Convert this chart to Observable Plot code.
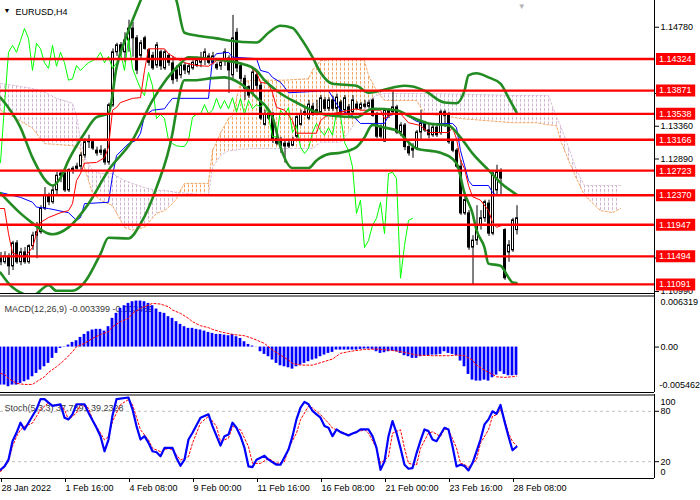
<!DOCTYPE html>
<html><head><meta charset="utf-8">
<script src="https://cdn.jsdelivr.net/npm/d3@7"></script>
<script src="https://cdn.jsdelivr.net/npm/@observablehq/plot@0.6"></script>
<style>
body{margin:0;background:#fff;}
#chart{position:relative;width:700px;height:500px;overflow:hidden;background:#fff;}
#chart svg{position:absolute;left:0;}
</style></head><body><div id="chart"></div>
<script>
// ---------- DATA ----------
const symbolTitle = "EURUSD,H4";
const macdTitle = "MACD(12,26,9) -0.003399 -0.003489";
const stochTitle = "Stoch(5,3,3) 37.7891 39.2328";
const xTickBars = [0,16,32,48,64,80,96,112,128];
const xTickLabels = ["28 Jan 2022","1 Feb 16:00","4 Feb 08:00","9 Feb 00:00","11 Feb 16:00","16 Feb 08:00","21 Feb 00:00","23 Feb 16:00","28 Feb 08:00"];
const priceTicks = [1.14780,1.13830,1.13360,1.12890,1.11470,1.10990];
const levels = [1.14324,1.13871,1.13538,1.13166,1.12723,1.12370,1.11947,1.11494,1.11091];
const priceRange = [1.10947, 1.15163];

const candleOpen = [1.1146,1.1141,1.1149,1.1135,1.1168,1.1141,1.1155,1.1141,1.1164,1.1179,
 1.1184,1.1218,1.1237,1.1227,1.1244,1.1265,1.1268,1.1244,1.1273,1.1275,
 1.1278,1.1294,1.1313,1.1313,1.1301,1.1301,1.1301,1.1284,1.1366,1.1442,
 1.1452,1.1442,1.1459,1.1476,1.1462,1.1437,1.1462,1.1445,1.1437,1.1423,
 1.1442,1.1419,1.1437,1.1426,1.1416,1.1409,1.1423,1.1413,1.1419,1.1423,
 1.1427,1.1433,1.1436,1.1427,1.1424,1.1422,1.1430,1.1433,1.1409,1.1470,
 1.1422,1.1404,1.1392,1.1387,1.1409,1.1394,1.1338,1.1351,1.1351,1.1318,
 1.1316,1.1311,1.1311,1.1308,1.1321,1.1338,1.1356,1.1347,1.1364,1.1356,
 1.1356,1.1373,1.1361,1.1373,1.1361,1.1370,1.1359,1.1363,1.1356,1.1367,
 1.1361,1.1367,1.1364,1.1373,1.1353,1.1334,1.1314,1.1359,1.1356,1.1363,
 1.1327,1.1337,1.1306,1.1301,1.1304,1.1327,1.1340,1.1330,1.1323,1.1334,
 1.1326,1.1356,1.1351,1.1313,1.1301,1.1278,1.1211,1.1211,1.1162,1.1172,
 1.1194,1.1204,1.1225,1.1182,1.1244,1.1270,1.1187,1.1155,1.1158,1.1187];
const candleHigh = [1.1155,1.1156,1.1153,1.1171,1.1172,1.1161,1.1162,1.1166,1.1184,1.1198,
 1.1222,1.1248,1.1240,1.1250,1.1270,1.1273,1.1273,1.1275,1.1278,1.1283,
 1.1298,1.1318,1.1323,1.1316,1.1306,1.1308,1.1304,1.1369,1.1447,1.1455,
 1.1456,1.1470,1.1488,1.1485,1.1466,1.1459,1.1465,1.1447,1.1442,1.1456,
 1.1445,1.1445,1.1440,1.1436,1.1423,1.1427,1.1427,1.1426,1.1430,1.1435,
 1.1442,1.1447,1.1440,1.1442,1.1427,1.1433,1.1447,1.1437,1.1495,1.1476,
 1.1427,1.1409,1.1394,1.1419,1.1413,1.1399,1.1359,1.1356,1.1356,1.1323,
 1.1320,1.1316,1.1314,1.1320,1.1351,1.1359,1.1361,1.1373,1.1369,1.1373,
 1.1380,1.1377,1.1377,1.1379,1.1382,1.1373,1.1380,1.1367,1.1380,1.1371,
 1.1370,1.1373,1.1373,1.1376,1.1356,1.1338,1.1361,1.1361,1.1387,1.1366,
 1.1341,1.1340,1.1313,1.1311,1.1330,1.1359,1.1343,1.1340,1.1337,1.1340,
 1.1359,1.1359,1.1356,1.1316,1.1304,1.1287,1.1240,1.1215,1.1179,1.1222,
 1.1215,1.1230,1.1230,1.1271,1.1280,1.1275,1.1189,1.1172,1.1204,1.1222];
const candleLow = [1.1136,1.1138,1.1122,1.1129,1.1138,1.1136,1.1138,1.1138,1.1158,1.1146,
 1.1181,1.1215,1.1222,1.1224,1.1237,1.1255,1.1241,1.1241,1.1267,1.1273,
 1.1273,1.1290,1.1304,1.1301,1.1293,1.1294,1.1280,1.1280,1.1363,1.1436,
 1.1437,1.1427,1.1442,1.1435,1.1410,1.1433,1.1445,1.1422,1.1416,1.1419,
 1.1416,1.1416,1.1422,1.1396,1.1399,1.1404,1.1410,1.1409,1.1416,1.1420,
 1.1420,1.1423,1.1424,1.1424,1.1416,1.1416,1.1422,1.1383,1.1404,1.1413,
 1.1399,1.1373,1.1376,1.1383,1.1387,1.1344,1.1336,1.1344,1.1311,1.1308,
 1.1297,1.1283,1.1304,1.1307,1.1318,1.1336,1.1350,1.1344,1.1350,1.1351,
 1.1353,1.1357,1.1357,1.1357,1.1356,1.1350,1.1353,1.1350,1.1353,1.1359,
 1.1359,1.1361,1.1361,1.1349,1.1318,1.1318,1.1313,1.1347,1.1353,1.1324,
 1.1321,1.1301,1.1293,1.1290,1.1301,1.1316,1.1327,1.1318,1.1320,1.1320,
 1.1323,1.1334,1.1310,1.1298,1.1275,1.1208,1.1208,1.1158,1.1108,1.1165,
 1.1187,1.1198,1.1178,1.1179,1.1237,1.1237,1.1115,1.1141,1.1155,1.1180];
const candleClose = [1.1141,1.1149,1.1135,1.1168,1.1141,1.1155,1.1141,1.1164,1.1179,1.1184,
 1.1218,1.1237,1.1227,1.1244,1.1265,1.1268,1.1244,1.1273,1.1275,1.1278,
 1.1294,1.1313,1.1316,1.1304,1.1297,1.1298,1.1284,1.1366,1.1442,1.1452,
 1.1442,1.1459,1.1476,1.1462,1.1416,1.1455,1.1447,1.1427,1.1419,1.1452,
 1.1422,1.1442,1.1427,1.1402,1.1404,1.1423,1.1416,1.1422,1.1427,1.1430,
 1.1433,1.1442,1.1427,1.1436,1.1419,1.1427,1.1442,1.1416,1.1462,1.1419,
 1.1404,1.1390,1.1380,1.1413,1.1394,1.1347,1.1353,1.1347,1.1316,1.1311,
 1.1308,1.1307,1.1307,1.1316,1.1349,1.1353,1.1353,1.1367,1.1354,1.1359,
 1.1376,1.1361,1.1373,1.1361,1.1377,1.1356,1.1376,1.1353,1.1373,1.1361,
 1.1367,1.1364,1.1369,1.1351,1.1321,1.1321,1.1359,1.1351,1.1363,1.1327,
 1.1337,1.1306,1.1297,1.1304,1.1327,1.1340,1.1330,1.1323,1.1334,1.1323,
 1.1356,1.1351,1.1313,1.1301,1.1278,1.1211,1.1230,1.1162,1.1172,1.1194,
 1.1204,1.1227,1.1182,1.1268,1.1270,1.1261,1.1118,1.1165,1.1201,1.1204];

// Bollinger bands [bar, price]
const bbUpper = [[0,1.1377],[5,1.1334],[8,1.1291],[12,1.1254],[13,1.1251],[15,1.1262],[17,1.1287],[21,1.1326],[24,1.1349],[27,1.1354],[29,1.1420],[32,1.1473],[35,1.1516],[38,1.1555],[41,1.1555],[44,1.1516],[46,1.1470],[49,1.1466],[54,1.1462],[57,1.1459],[64,1.1456],[67,1.1470],[70,1.1480],[73,1.1477],[75,1.1463],[78,1.1435],[80,1.1413],[83,1.1397],[89,1.1394],[92,1.1384],[95,1.1387],[101,1.1394],[103,1.1393],[106,1.1387],[111,1.1370],[114,1.1369],[116,1.1387],[117,1.1409],[119,1.1412],[122,1.1406],[125,1.1397],[127,1.1377],[129,1.1356]];
const bbMiddle = [[0,1.1240],[5,1.1211],[8,1.1197],[12,1.1182],[13,1.1181],[17,1.1191],[22,1.1225],[27,1.1273],[33,1.1316],[38,1.1373],[45,1.1426],[47,1.1435],[52,1.1433],[60,1.1426],[64,1.1416],[66,1.1402],[70,1.1383],[74,1.1370],[79,1.1356],[83,1.1351],[89,1.1349],[93,1.1361],[99,1.1359],[102,1.1351],[107,1.1340],[112,1.1337],[115,1.1320],[118,1.1297],[122,1.1273],[125,1.1255],[129,1.1238]];
const bbLower = [[0,1.1126],[3,1.1105],[8,1.1093],[12,1.1108],[14,1.1100],[18,1.1100],[21,1.1112],[25,1.1153],[27,1.1176],[32,1.1175],[35,1.1196],[39,1.1248],[43,1.1326],[44,1.1359],[46,1.1402],[49,1.1402],[53,1.1405],[56,1.1406],[60,1.1397],[64,1.1377],[68,1.1349],[70,1.1306],[73,1.1276],[77,1.1276],[79,1.1287],[82,1.1296],[85,1.1298],[89,1.1306],[91,1.1320],[93,1.1338],[96,1.1334],[99,1.1330],[102,1.1313],[104,1.1304],[110,1.1298],[114,1.1283],[116,1.1240],[118,1.1211],[119,1.1187],[121,1.1162],[122,1.1139],[125,1.1136],[127,1.1119],[128,1.1112],[129,1.1111]];

// Ichimoku [bar, price]
const tenkan = [[0,1.1218],[1,1.1218],[2,1.1182],[3,1.1154],[6,1.1148],[8,1.1162],[9,1.1182],[10,1.1198],[12,1.1205],[15,1.1212],[17,1.1215],[18,1.1225],[19,1.1258],[20,1.1268],[21,1.1283],[24,1.1284],[26,1.1291],[27,1.1306],[28,1.1359],[29,1.1363],[30,1.1370],[33,1.1376],[35,1.1377],[36,1.1416],[37,1.1447],[41,1.1447],[42,1.1440],[44,1.1433],[46,1.1427],[49,1.1423],[52,1.1422],[54,1.1430],[57,1.1430],[62,1.1423],[64,1.1413],[65,1.1399],[67,1.1397],[68,1.1384],[69,1.1363],[71,1.1359],[73,1.1344],[74,1.1326],[79,1.1326],[80,1.1344],[81,1.1349],[83,1.1354],[89,1.1361],[90,1.1359],[95,1.1359],[96,1.1347],[98,1.1354],[100,1.1354],[102,1.1341],[105,1.1337],[107,1.1327],[112,1.1327],[113,1.1334],[114,1.1318],[115,1.1287],[116,1.1275],[117,1.1251],[118,1.1235],[120,1.1230],[122,1.1215],[123,1.1198],[124,1.1191],[126,1.1195],[129,1.1195]];
const kijun = [[0,1.1241],[5,1.1234],[8,1.1227],[9,1.1220],[12,1.1218],[17,1.1212],[19,1.1201],[20,1.1205],[21,1.1225],[27,1.1227],[28,1.1265],[29,1.1294],[32,1.1311],[34,1.1316],[35,1.1326],[36,1.1351],[38,1.1359],[41,1.1361],[42,1.1369],[43,1.1376],[52,1.1376],[53,1.1433],[54,1.1440],[57,1.1442],[58,1.1435],[64,1.1433],[65,1.1416],[67,1.1413],[68,1.1406],[70,1.1399],[71,1.1392],[72,1.1384],[82,1.1387],[85,1.1359],[88,1.1351],[90,1.1340],[96,1.1340],[97,1.1351],[99,1.1354],[101,1.1354],[104,1.1343],[106,1.1340],[113,1.1340],[114,1.1334],[115,1.1301],[116,1.1280],[117,1.1258],[118,1.1251],[122,1.1251],[123,1.1241],[124,1.1237],[129,1.1237]];
const chikouShift = 26;
const cloudBars = [0,4,8,11,14,18,19,20,21,23,25,28,31,33,36,39,41,43,44,45,46,52,53,55,57,58,60,63,71,77,78,80,85,87,89,91,92,94,96,104,106,113,115,128,134,137,139,140,142,144,146,150,153,155];
const senkouA = [1.1359,1.1347,1.1333,1.1311,1.1310,1.1308,1.1307,1.1304,1.1277,1.1240,1.1230,1.1222,1.1191,1.1187,1.1191,1.1211,1.1215,1.1225,1.1232,1.1244,1.1254,1.1254,1.1301,1.1326,1.1347,1.1351,1.1399,1.1402,1.1402,1.1404,1.1416,1.1430,1.1433,1.1433,1.1433,1.1430,1.1409,1.1387,1.1373,1.1373,1.1354,1.1349,1.1347,1.1341,1.1341,1.1338,1.1337,1.1316,1.1287,1.1261,1.1237,1.1215,1.1212,1.1218];
const senkouB = [1.1397,1.1394,1.1390,1.1385,1.1376,1.1369,1.1351,1.1316,1.1291,1.1273,1.1268,1.1268,1.1258,1.1254,1.1248,1.1244,1.1244,1.1242,1.1241,1.1241,1.1240,1.1237,1.1277,1.1294,1.1301,1.1301,1.1303,1.1304,1.1304,1.1304,1.1304,1.1313,1.1313,1.1327,1.1344,1.1361,1.1373,1.1380,1.1383,1.1383,1.1383,1.1382,1.1382,1.1380,1.1380,1.1380,1.1349,1.1337,1.1306,1.1273,1.1251,1.1251,1.1251,1.1251];

// MACD
const macdMax = 0.006319, macdMin = -0.005462;
const macdHist = [-0.00457,-0.00457,-0.00477,-0.00457,-0.00457,-0.00437,-0.00417,-0.00397,-0.00357,-0.00317,
 -0.00277,-0.00237,-0.00196,-0.00136,-0.00076,-0.00016,0.00004,0.00024,0.00056,0.00076,
 0.00116,0.00152,0.00184,0.00205,0.00213,0.00213,0.00192,0.00245,0.00345,0.00405,
 0.00465,0.00497,0.00525,0.00545,0.00553,0.00553,0.00545,0.00525,0.00497,0.00457,
 0.00417,0.00405,0.00365,0.00345,0.00305,0.00273,0.00245,0.00225,0.00225,0.00213,
 0.00205,0.00192,0.00176,0.00164,0.00152,0.00152,0.00144,0.00136,0.00152,0.00124,
 0.00104,0.00064,0.00032,0.00012,-0.00002,-0.00056,-0.00088,-0.00116,-0.00156,-0.00196,
 -0.00225,-0.00237,-0.00249,-0.00265,-0.00237,-0.00217,-0.00196,-0.00176,-0.00156,-0.00144,
 -0.00116,-0.00096,-0.00076,-0.00064,-0.00036,-0.00036,-0.00036,-0.00036,-0.00036,-0.00036,
 -0.00028,-0.00024,-0.00024,-0.00028,-0.00056,-0.00076,-0.00068,-0.00056,-0.00048,-0.00056,
 -0.00076,-0.00104,-0.00116,-0.00136,-0.00136,-0.00116,-0.00104,-0.00104,-0.00096,-0.00096,
 -0.00088,-0.00056,-0.00076,-0.00088,-0.00104,-0.00168,-0.00237,-0.00329,-0.00397,-0.00409,
 -0.00409,-0.00397,-0.00409,-0.00369,-0.00337,-0.00297,-0.00329,-0.00345,-0.00345,-0.003399];
const macdSignal = [[0,-0.00317],[1,-0.00329],[2,-0.00377],[4,-0.00437],[6,-0.00449],[8,-0.00449],[9,-0.00417],[11,-0.00357],[12,-0.00305],[14,-0.00237],[16,-0.00156],[18,-0.00056],[19,0.00004],[21,0.00044],[23,0.00104],[25,0.00152],[27,0.00184],[28,0.00245],[30,0.00305],[32,0.00345],[33,0.00405],[35,0.00465],[37,0.00505],[38,0.00525],[40,0.00517],[42,0.00485],[43,0.00445],[45,0.00405],[47,0.00345],[48,0.00305],[50,0.00257],[52,0.00233],[53,0.00213],[55,0.00184],[58,0.00152],[61,0.00136],[63,0.00104],[66,0.00044],[68,-0.00036],[70,-0.00096],[72,-0.00156],[73,-0.00196],[75,-0.00217],[78,-0.00217],[80,-0.00188],[83,-0.00144],[85,-0.00076],[87,-0.00056],[88,-0.00048],[91,-0.00028],[94,-0.00024],[98,-0.00040],[101,-0.00064],[104,-0.00096],[108,-0.00104],[112,-0.00104],[114,-0.00096],[116,-0.00104],[118,-0.00156],[119,-0.00217],[121,-0.00277],[123,-0.00329],[124,-0.00357],[126,-0.00365],[128,-0.00357],[129,-0.003489]];

// Stochastic [bar, value]
const stochMain = [[0,10.4],[1,14.4],[2,22.4],[3,44.4],[4,54.4],[5,66.4],[6,58.4],[7,66.4],[8,74.4],[9,82.4],[10,94.4],[11,94.4],[12,90.4],[13,86.4],[15,88.4],[16,72.4],[17,70.4],[18,76.4],[19,88.4],[21,88.4],[22,78.4],[24,60.4],[25,50.4],[26,32.4],[27,46.4],[28,75],[29,94.4],[32,96.4],[33,82.4],[34,62.4],[35,46.4],[36,50.4],[37,42.4],[38,32.4],[39,31.2],[40,26.4],[41,36.4],[43,36.4],[44,24.4],[45,15.2],[46,22.4],[47,46.4],[48,54.4],[50,72.4],[52,76.4],[53,62.4],[55,39.2],[56,50.4],[57,52.4],[58,66.4],[59,60.4],[60,50.4],[61,36.4],[62,14.4],[63,13.6],[64,22.4],[66,27.2],[67,22.4],[69,16.4],[70,16.4],[72,34.4],[73,50.4],[74,70.4],[75,84.4],[76,91.2],[77,88.4],[78,80.4],[79,76.4],[80,72.4],[81,62.4],[82,60.4],[83,50.4],[84,58.4],[85,55.2],[86,53.2],[87,51.2],[88,53.5],[89,55.2],[90,58.4],[92,58.4],[93,50.4],[94,36.4],[95,10.4],[96,20.4],[97,50.4],[98,68.4],[99,54.4],[100,36.4],[101,16.4],[102,11.6],[103,12.4],[104,30],[105,45],[106,58.4],[107,56.4],[108,46.4],[109,44.4],[110,52.4],[111,60.4],[112,58.4],[113,38.4],[114,14.4],[115,16.4],[116,15],[117,9.6],[118,18.4],[119,32],[120,46.4],[121,64.4],[122,70.4],[123,80],[124,77],[125,87.6],[126,68],[127,50],[128,33.6],[129,37.79]];
const stochSignal = [[0,8],[2,20],[3,38],[4,50],[5,58],[6,62],[8,66],[10,82],[12,90],[13,87],[15,88],[16,82],[17,70],[19,78],[20,88],[22,84],[23,70],[25,54],[26,46],[27,50],[28,68],[30,88],[32,94],[33,88],[35,58],[37,46],[38,36],[40,32],[42,36],[43,34],[45,22],[47,26],[48,42],[50,66],[52,74],[54,62],[55,44],[57,48],[58,62],[60,58],[62,38],[63,18],[65,18],[67,24],[69,18],[71,20],[72,36],[74,54],[75,70],[77,86],[78,84],[80,76],[82,66],[83,60],[85,56],[87,52],[88,54],[91,58],[92,54],[94,36],[95,18],[97,26],[98,54],[100,58],[101,36],[102,18],[104,16],[105,36],[107,54],[108,55.6],[110,50],[111,59],[112,58],[114,36.4],[115,18.4],[116,16.4],[117,13.6],[119,22.4],[120,42],[122,58],[123,74],[124,76],[125,82],[126,70],[127,54],[128,44],[129,39.23]];
const stochLevels = [20, 80];

// ---------- CHART ----------
const F = "Liberation Sans, Arial, sans-serif";
const style = {fontFamily: F, fontSize: "9px", background: "transparent", overflow: "visible"};
const xDomain = [0, 163.5];
const xRight = 163.5;
const txt = (s, o) => Plot.text([s], {text: d => d, textAnchor: "start", fontSize: 9, ...o});
const candles = candleOpen.map((o, i) => ({i, o, h: candleHigh[i], l: candleLow[i], c: candleClose[i]}));
const chikou = candleClose.slice(chikouShift).map((c, i) => ({i, c}));
const cloud = cloudBars.map((b, k) => ({b, a: senkouA[k], s: senkouB[k]}));
const P = d => d[0], V = d => d[1];
const GREEN = "#228B22";

const main = Plot.plot({
  width: 700, height: 294, marginLeft: 0, marginRight: 46, marginTop: 0, marginBottom: 0,
  x: {domain: xDomain, axis: null},
  y: {domain: priceRange, axis: null},
  style,
  marks: [
    Plot.areaY(cloud, {x: "b", y1: "s", y2: d => Math.max(d.a, d.s), fill: "url(#hatchUp)"}),
    Plot.areaY(cloud, {x: "b", y1: "a", y2: d => Math.max(d.a, d.s), fill: "url(#hatchDn)"}),
    Plot.line(cloud, {x: "b", y: "a", stroke: "#F4A460", strokeDasharray: "2,2", strokeWidth: 1}),
    Plot.line(cloud, {x: "b", y: "s", stroke: "#D8BFD8", strokeDasharray: "2,2", strokeWidth: 1}),
    Plot.ruleX(candles, {x: "i", y1: "l", y2: "h", stroke: "black", strokeWidth: 1, dx: 0.5}),
    Plot.rect(candles, {filter: d => d.c >= d.o, x1: d => d.i - 0.25, x2: d => d.i + 0.25, y1: "o", y2: "c", fill: "white", stroke: "black", dx: 0.5}),
    Plot.rect(candles, {filter: d => d.c < d.o, x1: d => d.i - 0.25, x2: d => d.i + 0.25, y1: "o", y2: "c", fill: "black", stroke: "black", dx: 0.5}),
    Plot.line(chikou, {x: "i", y: "c", stroke: "#00ff00", strokeWidth: 1, clip: true}),
    Plot.line(kijun, {x: P, y: V, stroke: "#0000ff", strokeWidth: 1}),
    Plot.line(tenkan, {x: P, y: V, stroke: "#ff0000", strokeWidth: 1}),
    Plot.line(bbUpper, {x: P, y: V, stroke: GREEN, strokeWidth: 2.6, curve: "monotone-x", clip: true}),
    Plot.line(bbMiddle, {x: P, y: V, stroke: GREEN, strokeWidth: 2.6, curve: "monotone-x", clip: true}),
    Plot.line(bbLower, {x: P, y: V, stroke: GREEN, strokeWidth: 2.6, curve: "monotone-x", clip: true}),
    Plot.ruleY(levels, {stroke: "#ff0000", strokeWidth: 2.3}),
    txt("\u25BC", {frameAnchor: "top-left", dx: 3, dy: 8, fontSize: 7, fill: "black"}),
    txt(symbolTitle, {frameAnchor: "top-left", dx: 15, dy: 8, fill: "black"}),
    Plot.text(["\u25BC"], {x: 130.3, frameAnchor: "top", text: d => d, fill: "#b4b4b4", fontSize: 8, dy: 3}),
    Plot.ruleX([xRight], {stroke: "black", strokeWidth: 1}),
    Plot.axisY({anchor: "right", ticks: priceTicks, tickFormat: d => d.toFixed(5), tickSize: 4, tickPadding: 2, fontSize: 9, label: null}),
    Plot.ruleY(levels, {x1: 164, x2: 173.8, stroke: "#ff0000", strokeWidth: 12}),
    Plot.text(levels, {x: 164, y: d => d, text: d => d.toFixed(5), textAnchor: "start", dx: 2.5, fill: "white", fontSize: 9})
  ]
});
main.style.top = "0px";
const defs = document.createElementNS("http://www.w3.org/2000/svg", "defs");
defs.innerHTML = '<pattern id="hatchUp" width="4" height="4.5" patternUnits="userSpaceOnUse"><rect x="0" y="0" width="1" height="3" fill="#F4A460"/></pattern>' +
  '<pattern id="hatchDn" width="4" height="4.5" patternUnits="userSpaceOnUse"><rect x="0" y="0" width="1" height="3" fill="#D2B4D2"/></pattern>';
main.insertBefore(defs, main.firstChild);

const macdData = macdHist.map((v, k) => ({k, v}));
const macd = Plot.plot({
  width: 700, height: 104, marginLeft: 0, marginRight: 46, marginTop: 2, marginBottom: 4,
  x: {domain: xDomain, axis: null},
  y: {domain: [macdMin, macdMax], axis: null},
  style,
  marks: [
    txt(macdTitle, {frameAnchor: "top-left", dx: 4, dy: 11, fill: "#3a3a3a"}),
    Plot.rect(macdData, {x1: d => d.k - 0.34, x2: d => d.k + 0.34, y1: 0, y2: "v", fill: "#0000ff"}),
    Plot.line(macdSignal, {x: P, y: V, stroke: "#ff0000", strokeWidth: 1, strokeDasharray: "2,2"}),
    Plot.ruleY([macdMax], {stroke: "black", dy: -1}),
    Plot.ruleY([macdMax], {stroke: "black", dy: 1.5}),
    Plot.ruleY([macdMin], {stroke: "black", dy: 0}),
    Plot.ruleY([macdMin], {stroke: "black", dy: 2.5}),
    Plot.ruleX([xRight], {stroke: "black"}),
    Plot.axisY({anchor: "right", ticks: [0], tickFormat: () => "0.00", tickSize: 4, tickPadding: 2, fontSize: 9, label: null}),
    Plot.text([macdMax], {x: xRight, y: d => d, text: d => d.toFixed(6), textAnchor: "start", dx: 6, dy: 8, fontSize: 9, fill: "black"}),
    Plot.text([macdMin], {x: xRight, y: d => d, text: d => d.toFixed(6), textAnchor: "start", dx: 5, dy: -7, fontSize: 9, fill: "black"})
  ]
});
macd.style.top = "292px";

const tickLabel = new Map(xTickBars.map((b, i) => [b, xTickLabels[i]]));
const stoch = Plot.plot({
  width: 700, height: 106, marginLeft: 0, marginRight: 46, marginTop: 0, marginBottom: 22,
  x: {domain: xDomain, axis: null},
  y: {domain: [0, 100], axis: null},
  style,
  marks: [
    txt(stochTitle, {frameAnchor: "top-left", dx: 4, dy: 10, fill: "#3a3a3a"}),
    Plot.ruleY(stochLevels, {stroke: "#c0c0c0", strokeDasharray: "3,3"}),
    Plot.line(stochSignal, {x: P, y: V, stroke: "#ff0000", strokeWidth: 1, strokeDasharray: "2,2"}),
    Plot.line(stochMain, {x: P, y: V, stroke: "#0000ff", strokeWidth: 2.2}),
    Plot.ruleY([0], {stroke: "black"}),
    Plot.ruleX([xRight], {stroke: "black"}),
    Plot.axisY({anchor: "right", ticks: stochLevels, tickSize: 4, tickPadding: 2, fontSize: 9, label: null}),
    Plot.text([100], {x: xRight, y: d => d, text: d => String(d), textAnchor: "start", dx: 6, dy: 8, fontSize: 9, fill: "black"}),
    Plot.text([0], {x: xRight, y: d => d, text: d => String(d), textAnchor: "start", dx: 6, dy: -6, fontSize: 9, fill: "black"}),
    Plot.axisX({ticks: xTickBars, tickFormat: d => tickLabel.get(d), tickSize: 4, tickPadding: 2, textAnchor: "start", dx: 1, fontSize: 9, label: null})
  ]
});
stoch.style.top = "394px";

const root = document.getElementById("chart");
root.appendChild(main);
root.appendChild(macd);
root.appendChild(stoch);
</script></body></html>
